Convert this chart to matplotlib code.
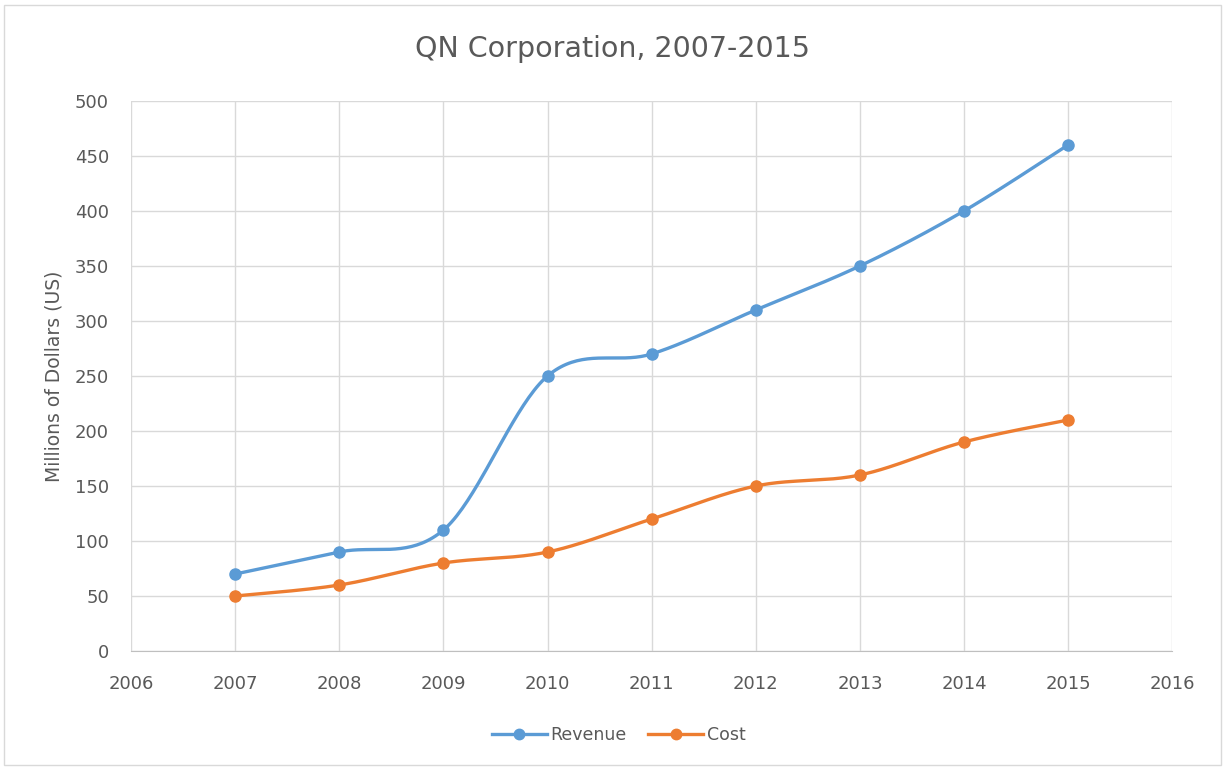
import numpy as np
import matplotlib
matplotlib.use("Agg")
import matplotlib.pyplot as plt
from matplotlib.lines import Line2D

years = [2007, 2008, 2009, 2010, 2011, 2012, 2013, 2014, 2015]
revenue = [70, 90, 110, 250, 270, 310, 350, 400, 460]
cost = [50, 60, 80, 90, 120, 150, 160, 190, 210]

plt.rcParams['font.family'] = ['DejaVu Sans']
grey = "#595959"


def smooth(x, y, n=40):
    # Excel-style smoothed line: cubic Bezier with Catmull-Rom control points
    x = np.asarray(x, float)
    y = np.asarray(y, float)
    px = np.concatenate([[x[0]], x, [x[-1]]])
    py = np.concatenate([[y[0]], y, [y[-1]]])
    xs, ys = [], []
    t = np.linspace(0, 1, n)
    for i in range(1, len(px) - 2):
        p0 = np.array([px[i], py[i]])
        p3 = np.array([px[i + 1], py[i + 1]])
        c1 = p0 + (np.array([px[i + 1], py[i + 1]]) - np.array([px[i - 1], py[i - 1]])) / 6
        c2 = p3 - (np.array([px[i + 2], py[i + 2]]) - np.array([px[i], py[i]])) / 6
        b = ((1 - t) ** 3)[:, None] * p0 + (3 * (1 - t) ** 2 * t)[:, None] * c1 \
            + (3 * (1 - t) * t ** 2)[:, None] * c2 + (t ** 3)[:, None] * p3
        xs.extend(b[:, 0])
        ys.extend(b[:, 1])
    return xs, ys


fig = plt.figure(figsize=(12.25, 7.7), dpi=100)
ax = fig.add_axes([0.107, 0.1545, 0.85, 0.7145])

blue = "#5B9BD5"
orange = "#ED7D31"
for vals, col in [(revenue, blue), (cost, orange)]:
    sx, sy = smooth(years, vals)
    ax.plot(sx, sy, color=col, lw=2.4, solid_capstyle="round", zorder=3)
    ax.plot(years, vals, "o", color=col, ms=8, zorder=4)

ax.set_xlim(2006, 2016)
ax.set_ylim(0, 500)
ax.set_xticks(range(2006, 2017))
ax.set_yticks(range(0, 501, 50))
ax.grid(True, color="#D9D9D9", lw=1)
ax.set_axisbelow(True)
for s in ["top", "right", "left"]:
    ax.spines[s].set_visible(False)
ax.spines["bottom"].set_color("#BFBFBF")
ax.tick_params(length=0, colors=grey, labelsize=13)
ax.tick_params(axis="x", pad=17)
ax.tick_params(axis="y", pad=16)

ax.set_ylabel("Millions of Dollars (US)", color=grey, fontsize=13.5, labelpad=8)
fig.text(0.5, 0.936, "QN Corporation, 2007-2015", ha="center", va="center",
         fontsize=20.5, color=grey)

handles = [Line2D([], [], color=blue, lw=2.4, marker="o", ms=7.5),
           Line2D([], [], color=orange, lw=2.4, marker="o", ms=7.5)]
fig.legend(handles, ["Revenue", "Cost"], loc="center", bbox_to_anchor=(0.505, 0.046),
           ncol=2, frameon=False, fontsize=12.5, labelcolor=grey,
           handlelength=3.2, handletextpad=0.2, columnspacing=1.2)

fig.patches.append(plt.Rectangle((0.003, 0.006), 0.994, 0.988, transform=fig.transFigure,
                                 fill=False, edgecolor="#D9D9D9", lw=1))

fig.savefig("out.png", dpi=100, facecolor="white")
